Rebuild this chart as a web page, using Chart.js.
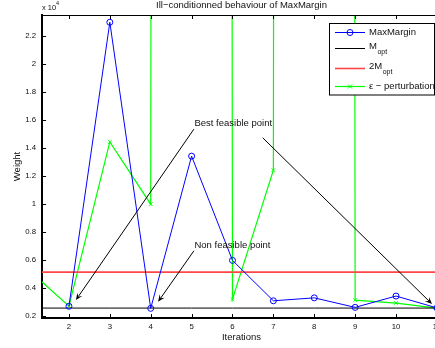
<!DOCTYPE html>
<html><head><meta charset="utf-8">
<script src="https://cdn.jsdelivr.net/npm/chart.js@4.4.1/dist/chart.umd.min.js"></script>
<style>
html,body{margin:0;padding:0;background:#fff;overflow:hidden;}
#wrap{position:relative;width:450px;height:348px;}
</style></head><body>
<div id="wrap"><canvas id="c"></canvas></div>
<script>
// ---- data ----
const iterations = [1, 2, 3, 4, 5, 6, 7, 8, 9, 10, 11];
const maxMarginIter = [2, 3, 4, 5, 6, 7, 8, 9, 10, 11];
const maxMargin = [2700, 23000, 2550, 13430, 5980, 3090, 3300, 2620, 3430, 2580];
// values at iterations 5 and 8 are far above the plotted range
const perturbation = [5350, 2700, 14450, 10000, 1e7, 3200, 12430, 1e7, 3140, 2930, 2570];
const mOpt = 2570;
const twoMOpt = 5140;
const xTicks = [2, 3, 4, 5, 6, 7, 8, 9, 10, 11];
const xTickLabels = ['2', '3', '4', '5', '6', '7', '8', '9', '10', '11'];
const yTicks = [2000, 4000, 6000, 8000, 10000, 12000, 14000, 16000, 18000, 20000, 22000];
const yTickLabels = ['0.2', '0.4', '0.6', '0.8', '1', '1.2', '1.4', '1.6', '1.8', '2', '2.2'];
const xRange = [1.341, 11.1];
const yRange = [1860, 23520];
const seriesNames = ['MaxMargin', 'M', '2M', 'ε − perturbation'];

// ---- annotations (data coordinates) ----
const notes = [
  { text: 'Best feasible point', x: 5.07, y: 15790 },
  { text: 'Non feasible point', x: 5.07, y: 7020 }
];
const arrows = [
  { from: [5.056, 15360], to: [2.17, 3140] },
  { from: [6.74, 14740], to: [10.88, 2860] },
  { from: [5.056, 6660], to: [4.18, 3020] }
];

const FAM = '"Liberation Sans", Arial, Helvetica, sans-serif';
const BLUE = '#0000ff', GREEN = '#00ff00', RED = 'rgb(255,70,70)', BLACK = '#000';

const overlay = {
  id: 'overlay',
  afterDatasetsDraw(chart) {
    const { ctx, chartArea: a, scales: { x, y } } = chart;
    ctx.save();
    ctx.strokeStyle = BLACK; ctx.fillStyle = BLACK; ctx.lineWidth = 1;
    arrows.forEach(ar => {
      const x1 = x.getPixelForValue(ar.from[0]), y1 = y.getPixelForValue(ar.from[1]);
      const x2 = x.getPixelForValue(ar.to[0]), y2 = y.getPixelForValue(ar.to[1]);
      const dx = x2 - x1, dy = y2 - y1, len = Math.hypot(dx, dy);
      const ux = dx / len, uy = dy / len, nx = -uy, ny = ux;
      const L = 7, W = 3;
      ctx.beginPath(); ctx.moveTo(x1, y1); ctx.lineTo(x2 - ux * L * 0.6, y2 - uy * L * 0.6); ctx.stroke();
      ctx.beginPath();
      ctx.moveTo(x2, y2);
      ctx.lineTo(x2 - ux * L + nx * W, y2 - uy * L + ny * W);
      ctx.lineTo(x2 - ux * L * 0.6, y2 - uy * L * 0.6);
      ctx.lineTo(x2 - ux * L - nx * W, y2 - uy * L - ny * W);
      ctx.closePath(); ctx.fill();
    });
    ctx.font = '9.5px ' + FAM; ctx.textAlign = 'left'; ctx.textBaseline = 'middle';
    ctx.fillStyle = '#111';
    notes.forEach(n => ctx.fillText(n.text, x.getPixelForValue(n.x), y.getPixelForValue(n.y)));
    ctx.restore();
  },
  afterDraw(chart) {
    const { ctx, chartArea: a, scales: { x, y } } = chart;
    ctx.save();
    ctx.strokeStyle = BLACK; ctx.lineWidth = 1;
    ctx.beginPath();
    ctx.moveTo(a.left, a.top + 0.5); ctx.lineTo(a.right, a.top + 0.5);
    ctx.moveTo(a.right - 0.5, a.top); ctx.lineTo(a.right - 0.5, a.bottom);
    const tl = 4;
    xTicks.forEach(v => {
      const px = Math.round(x.getPixelForValue(v)) + 0.5;
      ctx.moveTo(px, a.bottom); ctx.lineTo(px, a.bottom - tl);
      ctx.moveTo(px, a.top); ctx.lineTo(px, a.top + tl);
    });
    yTicks.forEach(v => {
      const py = Math.round(y.getPixelForValue(v)) + 0.5;
      ctx.moveTo(a.left, py); ctx.lineTo(a.left + tl, py);
      ctx.moveTo(a.right, py); ctx.lineTo(a.right - tl, py);
    });
    ctx.stroke();

    // title and exponent
    ctx.fillStyle = '#111';
    ctx.font = '9.5px ' + FAM; ctx.textAlign = 'center'; ctx.textBaseline = 'alphabetic';
    ctx.fillText('Ill−conditionned behaviour of MaxMargin', (a.left + a.right) / 2, 7.5);
    ctx.textAlign = 'left';
    ctx.font = '7.5px ' + FAM;
    ctx.fillText('x 10', a.left, 9.5);
    ctx.font = '5.5px ' + FAM;
    ctx.fillText('4', a.left + 14, 5);

    // legend
    const lx = 329.5, ly = 23.5, lw = 105, lh = 71.5;
    ctx.fillStyle = '#fff'; ctx.fillRect(lx, ly, lw, lh);
    ctx.strokeStyle = BLACK; ctx.lineWidth = 1; ctx.strokeRect(lx, ly, lw, lh);
    const s0 = 335, s1 = 365, tx = 369;
    const rows = [32.5, 48.5, 68.5, 86.5];
    const cols = [BLUE, BLACK, RED, GREEN];
    rows.forEach((ry, i) => {
      ctx.strokeStyle = cols[i]; ctx.lineWidth = i === 2 ? 1.6 : (i === 3 ? 1.2 : 1);
      ctx.beginPath(); ctx.moveTo(s0, ry); ctx.lineTo(s1, ry); ctx.stroke();
    });
    ctx.strokeStyle = BLUE; ctx.lineWidth = 1;
    ctx.beginPath(); ctx.arc(350, rows[0], 3, 0, Math.PI * 2); ctx.stroke();
    ctx.strokeStyle = GREEN;
    ctx.beginPath();
    ctx.moveTo(348, rows[3] - 2); ctx.lineTo(352, rows[3] + 2);
    ctx.moveTo(348, rows[3] + 2); ctx.lineTo(352, rows[3] - 2);
    ctx.stroke();
    ctx.fillStyle = '#111';
    ctx.font = '9.5px ' + FAM; ctx.textBaseline = 'middle';
    ctx.fillText(seriesNames[0], tx, rows[0] - 0.5);
    ctx.fillText(seriesNames[3], tx, rows[3] - 0.5);
    ctx.textBaseline = 'alphabetic';
    [[1, rows[1]], [2, rows[2]]].forEach(([i, ry]) => {
      ctx.font = '9.5px ' + FAM;
      ctx.fillText(seriesNames[i], tx, ry);
      const w = ctx.measureText(seriesNames[i]).width;
      ctx.font = '7px ' + FAM;
      ctx.fillText('opt', tx + w + 0.5, ry + 5);
    });
    ctx.restore();
  }
};

new Chart(document.getElementById('c'), {
  type: 'line',
  data: {
    datasets: [
      {
        label: 'MaxMargin',
        data: maxMarginIter.map((v, i) => ({ x: v, y: maxMargin[i] })),
        borderColor: BLUE, borderWidth: 1, tension: 0, fill: false,
        pointStyle: 'circle', pointRadius: 3, pointBorderColor: BLUE,
        pointBackgroundColor: 'rgba(0,0,0,0)', pointBorderWidth: 1
      },
      {
        label: 'Mopt',
        data: iterations.map(v => ({ x: v, y: mOpt })),
        borderColor: BLACK, borderWidth: 1, pointRadius: 0, fill: false
      },
      {
        label: '2Mopt',
        data: iterations.map(v => ({ x: v, y: twoMOpt })),
        borderColor: RED, borderWidth: 1.6, pointRadius: 0, fill: false
      },
      {
        label: 'perturbation',
        data: iterations.map((v, i) => ({ x: v, y: perturbation[i] })),
        borderColor: GREEN, borderWidth: 1.2, tension: 0, fill: false,
        pointStyle: 'crossRot', pointRadius: 2.5, pointBorderColor: GREEN, pointBorderWidth: 1
      }
    ]
  },
  options: {
    responsive: true, maintainAspectRatio: false, animation: false,
    layout: { padding: { left: 0, right: 9, top: 15, bottom: 0 } },
    plugins: { legend: { display: false }, title: { display: false }, tooltip: { enabled: false } },
    scales: {
      x: {
        type: 'linear', min: xRange[0], max: xRange[1],
        afterFit(s) { s.height = 30; },
        afterBuildTicks(s) { s.ticks = xTicks.map(v => ({ value: v })); },
        ticks: { callback: (v, i) => xTickLabels[i], font: { family: FAM, size: 7.8 }, color: '#111', padding: 4, maxRotation: 0, autoSkip: false },
        grid: { display: true, drawOnChartArea: false, drawTicks: false, color: 'rgba(0,0,0,0)' },
        border: { display: true, color: BLACK, width: 2 },
        title: { display: true, text: 'Iterations', font: { family: FAM, size: 9.5 }, color: '#111', padding: { top: 0, bottom: 4.6 } }
      },
      y: {
        type: 'linear', min: yRange[0], max: yRange[1],
        afterFit(s) { s.width = 42; },
        afterBuildTicks(s) { s.ticks = yTicks.map(v => ({ value: v })); },
        ticks: { callback: (v, i) => yTickLabels[i], font: { family: FAM, size: 7.8 }, color: '#111', padding: 6, autoSkip: false },
        grid: { display: true, drawOnChartArea: false, drawTicks: false, color: 'rgba(0,0,0,0)' },
        border: { display: true, color: BLACK, width: 2 },
        title: { display: true, text: 'Weight', font: { family: FAM, size: 9.5 }, color: '#111', padding: { top: 11.3, bottom: 0 } }
      }
    }
  },
  plugins: [overlay]
});
</script>
</body></html>
